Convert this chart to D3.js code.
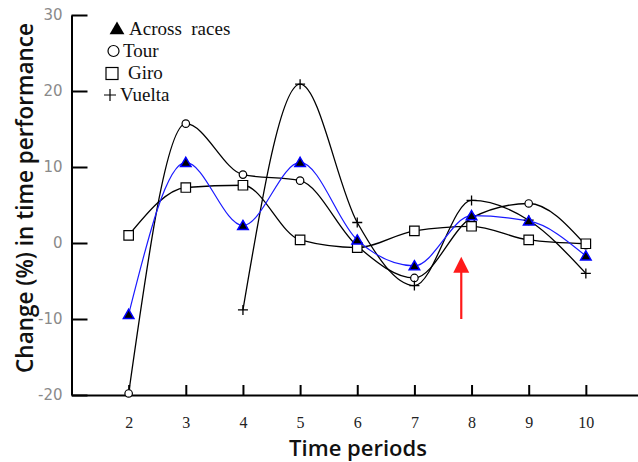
<!DOCTYPE html>
<html>
<head>
<meta charset="utf-8">
<script src="https://cdn.jsdelivr.net/npm/d3@7"></script>
<style>
  html, body { margin: 0; padding: 0; background: #fff; }
  svg { display: block; }
  .axis path, .axis line { stroke: #000; stroke-width: 2; }
  .y-axis text { fill: #8a8a8a; font-family: "DejaVu Sans", sans-serif; font-size: 15px; }
  .x-axis text { fill: #222; font-family: "Liberation Serif", serif; font-size: 16px; }
  .axis-title { font-family: "Open Sans", sans-serif; font-weight: 600; fill: #111; }
  .legend text { font-family: "Liberation Serif", serif; font-size: 19px; fill: #111; }
</style>
</head>
<body>
<div id="chart"></div>
<script>
// ── DATA ─────────────────────────────────────────────────────────────────────
const periods     = [2, 3, 4, 5, 6, 7, 8, 9, 10];
const acrossRaces = [-9.4, 10.6, 2.3, 10.6, 0.4, -3.0, 3.6, 2.9, -1.7];
const tour        = [-19.8, 15.7, 9.0, 8.2, -0.4, -4.6, 3.3, 5.2, -0.3];
const giro        = [1.0, 7.3, 7.6, 0.4, -0.6, 1.6, 2.2, 0.4, -0.1];
const vuelta      = [null, null, -8.8, 20.9, 2.7, -5.6, 5.6, 3.0, -4.0];

const yTicks = [-20, -10, 0, 10, 20, 30];
const legendLabels = ['Across  races', 'Tour', 'Giro', 'Vuelta'];

// red arrow annotation (period, value at tail, value at tip)
const arrowPeriod = 7.82;
const arrowFrom   = -10;
const arrowTo     = -1.8;

// ── DIMENSIONS ───────────────────────────────────────────────────────────────
const W = 638, H = 462;

const svg = d3.select('#chart').append('svg')
  .attr('width', W)
  .attr('height', H);

// ── SCALES ───────────────────────────────────────────────────────────────────
const x = d3.scaleLinear().domain([1, 11]).range([71.5, 643]);
const y = d3.scaleLinear().domain([-20, 30]).range([395, 15]);

// ── AXES ─────────────────────────────────────────────────────────────────────
svg.append('g')
  .attr('class', 'axis y-axis')
  .attr('transform', `translate(${x(1)},0)`)
  .call(d3.axisLeft(y).tickValues(yTicks).tickFormat(d => String(d))
    .tickSizeInner(-16).tickSizeOuter(0).tickPadding(9));

svg.append('g')
  .attr('class', 'axis x-axis')
  .attr('transform', `translate(0,${y(-20)})`)
  .call(d3.axisBottom(x).tickValues(periods).tickSizeInner(-10).tickSizeOuter(0).tickPadding(22));

svg.append('text')
  .attr('class', 'axis-title')
  .attr('transform', 'rotate(-90)')
  .attr('x', -198)
  .attr('y', 33)
  .attr('text-anchor', 'middle')
  .style('font-size', '22.5px')
  .text('Change (%) in time performance');

svg.append('text')
  .attr('class', 'axis-title')
  .attr('x', 358)
  .attr('y', 456)
  .attr('text-anchor', 'middle')
  .style('font-size', '22px')
  .text('Time periods');

// ── LINES ────────────────────────────────────────────────────────────────────
const toPoints = vals => periods.map((p, i) => ({ p, v: vals[i] })).filter(d => d.v != null);

const line = d3.line()
  .x(d => x(d.p))
  .y(d => y(d.v))
  .curve(d3.curveMonotoneX);

const series = [
  { key: 'tour',   vals: tour,        color: '#000', width: 1.3, symbol: d3.symbolCircle,   size: 44, fill: '#fff' },
  { key: 'giro',   vals: giro,        color: '#000', width: 1.3, symbol: d3.symbolSquare,   size: 90, fill: '#fff' },
  { key: 'vuelta', vals: vuelta,      color: '#000', width: 1.3, symbol: d3.symbolCross,    size: 0,  fill: 'none' },
  { key: 'across', vals: acrossRaces, color: '#1a1aff', width: 1.2, symbol: d3.symbolTriangle, size: 48, fill: '#000' }
];

series.forEach(s => {
  svg.append('path')
    .datum(toPoints(s.vals))
    .attr('fill', 'none')
    .attr('stroke', s.color)
    .attr('stroke-width', s.width)
    .attr('d', line);
});

// markers drawn after lines
series.forEach(s => {
  const pts = toPoints(s.vals);
  if (s.key === 'vuelta') {
    // thin plus signs
    svg.append('g').selectAll('path')
      .data(pts)
      .join('path')
        .attr('d', d => `M${x(d.p) - 5},${y(d.v)}H${x(d.p) + 5}M${x(d.p)},${y(d.v) - 5}V${y(d.v) + 5}`)
        .attr('stroke', '#000')
        .attr('stroke-width', 1.3);
  } else {
    svg.append('g').selectAll('path')
      .data(pts)
      .join('path')
        .attr('transform', d => `translate(${x(d.p)},${y(d.v) + (s.key === 'across' ? 1 : 0)})`)
        .attr('d', d3.symbol().type(s.symbol).size(s.size))
        .attr('fill', s.fill)
        .attr('stroke', s.key === 'across' ? '#0000ff' : '#000')
        .attr('stroke-width', s.key === 'across' ? 1.5 : 1.2);
  }
});

// ── RED ARROW ────────────────────────────────────────────────────────────────
svg.append('line')
  .attr('x1', x(arrowPeriod)).attr('x2', x(arrowPeriod))
  .attr('y1', y(arrowFrom)).attr('y2', y(arrowTo) + 14)
  .attr('stroke', '#ff1a1a')
  .attr('stroke-width', 2.2);

svg.append('path')
  .attr('d', `M${x(arrowPeriod)},${y(arrowTo)}L${x(arrowPeriod) + 8},${y(arrowTo) + 16}L${x(arrowPeriod) - 8},${y(arrowTo) + 16}Z`)
  .attr('fill', '#ff1a1a');

// ── LEGEND ───────────────────────────────────────────────────────────────────
const legend = svg.append('g').attr('class', 'legend');
const legRowY  = [35, 56.5, 78.5, 100.5];
const legTextX = [129, 123, 128, 120];

legend.append('path')
  .attr('transform', `translate(117,30)`)
  .attr('d', d3.symbol().type(d3.symbolTriangle).size(95))
  .attr('fill', '#000');
legend.append('circle')
  .attr('cx', 113.5).attr('cy', 51)
  .attr('r', 5.5)
  .attr('fill', 'none').attr('stroke', '#000').attr('stroke-width', 1.2);
legend.append('rect')
  .attr('x', 106).attr('y', 67.5)
  .attr('width', 12).attr('height', 12)
  .attr('fill', 'none').attr('stroke', '#000').attr('stroke-width', 1.2);
legend.append('path')
  .attr('d', 'M104,95H116M110,89V101')
  .attr('stroke', '#000').attr('stroke-width', 1.2);

legend.selectAll('text')
  .data(legendLabels)
  .join('text')
    .attr('x', (d, i) => legTextX[i])
    .attr('y', (d, i) => legRowY[i])
    .attr('xml:space', 'preserve')
    .style('white-space', 'pre')
    .text(d => d);
</script>
</body>
</html>
